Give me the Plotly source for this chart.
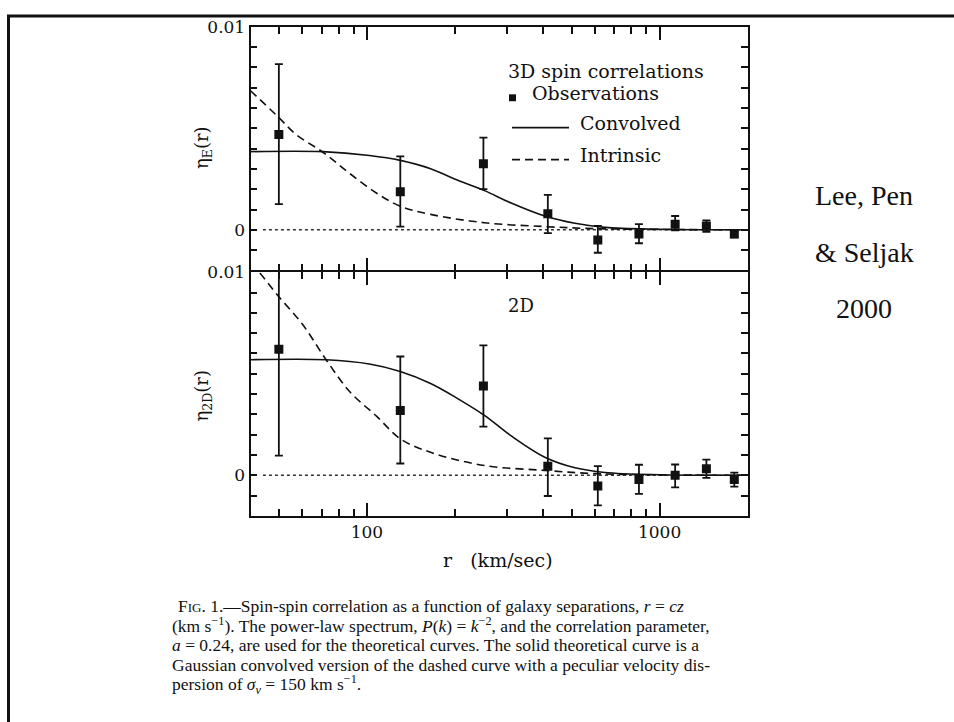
import plotly.graph_objects as go

W, H = 954, 722

# ---------------- data ----------------
r_obs = [50, 130, 250, 415, 615, 850, 1130, 1445, 1800]

# 3D spin correlations
eta3d_obs = [0.00470, 0.00188, 0.00325, 0.00079, -0.00050, -0.00021, 0.00028, 0.00019, -0.00021]
eta3d_hi = [0.00816, 0.00362, 0.00454, 0.00172, 0.00019, 0.00028, 0.00068, 0.00047, -0.00005]
eta3d_lo = [0.00127, 0.00016, 0.00200, -0.00016, -0.00113, -0.00066, -0.00002, -0.00010, -0.00037]

r_3d_conv = [40, 70.7, 102, 130, 165, 203.5, 252, 311, 405, 514, 650, 1000, 2000]
eta3d_conv = [0.00385, 0.00385, 0.00366, 0.00342, 0.00301, 0.00245, 0.00193, 0.00132, 0.00068, 0.00032, 0.00012, 0.00003, 0.0]

r_3d_intr = [40, 49.5, 57.2, 70.7, 87.4, 108, 130, 165, 252, 405, 600, 1000, 2000]
eta3d_intr = [0.00685, 0.00559, 0.00470, 0.00382, 0.00277, 0.00180, 0.00116, 0.00076, 0.00035, 0.00016, 0.00006, 0.00002, 0.0]

# 2D spin correlations
eta2d_obs = [0.00621, 0.00319, 0.00440, 0.00044, -0.00053, -0.00021, 0.00000, 0.00032, -0.00021]
eta2d_hi = [0.01040, 0.00585, 0.00640, 0.00182, 0.00045, 0.00052, 0.00053, 0.00077, 0.00013]
eta2d_lo = [0.00097, 0.00058, 0.00240, -0.00102, -0.00148, -0.00092, -0.00060, -0.00013, -0.00056]

r_2d_conv = [40, 72.6, 102, 130, 165, 203.5, 252, 311, 405, 514, 650, 1000, 2000]
eta2d_conv = [0.00569, 0.00569, 0.00548, 0.00511, 0.00452, 0.00379, 0.00295, 0.00194, 0.00089, 0.00037, 0.00014, 0.00003, 0.0]

r_2d_intr = [40, 42.8, 49.5, 60.3, 72.6, 87.4, 108, 130.5, 165, 252, 405, 600, 1000, 2000]
eta2d_intr = [0.01040, 0.01000, 0.00887, 0.00742, 0.00568, 0.00411, 0.00290, 0.00178, 0.00113, 0.00048, 0.00024, 0.00008, 0.00002, 0.0]

# ticks
x_major_vals = [100, 1000]
x_major_text = ["100", "1000"]
x_minor_vals = [50, 60, 70, 80, 90, 200, 300, 400, 500, 600, 700, 800, 900, 2000]
y_label_vals = [0.0, 0.01]
y_label_text = ["0", "0.01"]
y_minor_vals = [-0.002, -0.001, 0.001, 0.002, 0.003, 0.004, 0.005, 0.006, 0.007, 0.008, 0.009]

caption_lines = [
    "F<span style='font-size:13px'>IG</span>. 1.\u2014Spin-spin correlation as a function of galaxy separations, <i>r</i> = <i>cz</i>",
    "(km s<sup>\u22121</sup>). The power-law spectrum, <i>P</i>(<i>k</i>) = <i>k</i><sup>\u22122</sup>, and the correlation parameter,",
    "<i>a</i> = 0.24, are used for the theoretical curves. The solid theoretical curve is a",
    "Gaussian convolved version of the dashed curve with a peculiar velocity dis-",
    "persion of <i>\u03c3<sub>v</sub></i> = 150 km s<sup>\u22121</sup>.",
]
credit_lines = ["Lee, Pen", "&amp; Seljak", "2000"]

# ---------------- layout helpers ----------------
def px(x):
    return x / W

def py(y):
    return 1 - y / H

FRAME_L, FRAME_R = 250.5, 747.7
TOP_T, MID, BOT_B = 17, 265, 513
LW = 1.8

FONT = "DejaVu Serif"
BLACK = "#111111"


def err(vals, hi, lo):
    return dict(type="data", symmetric=False,
                array=[h - v for v, h in zip(vals, hi)],
                arrayminus=[v - l for v, l in zip(vals, lo)],
                color=BLACK, thickness=1.8, width=4)


fig = go.Figure()
DASH = "8px,5px"

# top panel: 3D (axes x2/y2)
fig.add_trace(go.Scatter(x=r_3d_intr, y=eta3d_intr, mode="lines", xaxis="x2", yaxis="y2",
                         line=dict(color=BLACK, width=1.6, dash=DASH, shape="spline"),
                         showlegend=False, hoverinfo="skip"))
fig.add_trace(go.Scatter(x=r_3d_conv, y=eta3d_conv, mode="lines", xaxis="x2", yaxis="y2",
                         line=dict(color=BLACK, width=1.6, shape="spline"),
                         showlegend=False, hoverinfo="skip"))
fig.add_trace(go.Scatter(x=r_obs, y=eta3d_obs, mode="markers", xaxis="x2", yaxis="y2",
                         marker=dict(symbol="square", size=9, color=BLACK),
                         error_y=err(eta3d_obs, eta3d_hi, eta3d_lo), showlegend=False))

# bottom panel: 2D (axes x/y)
fig.add_trace(go.Scatter(x=r_2d_intr, y=eta2d_intr, mode="lines", xaxis="x", yaxis="y",
                         line=dict(color=BLACK, width=1.6, dash=DASH, shape="spline"),
                         showlegend=False, hoverinfo="skip"))
fig.add_trace(go.Scatter(x=r_2d_conv, y=eta2d_conv, mode="lines", xaxis="x", yaxis="y",
                         line=dict(color=BLACK, width=1.6, shape="spline"),
                         showlegend=False, hoverinfo="skip"))
fig.add_trace(go.Scatter(x=r_obs, y=eta2d_obs, mode="markers", xaxis="x", yaxis="y",
                         marker=dict(symbol="square", size=9, color=BLACK),
                         error_y=err(eta2d_obs, eta2d_hi, eta2d_lo), showlegend=False))

xcommon = dict(type="log", range=[1.60206, 3.30103], domain=[px(FRAME_L), px(FRAME_R)],
               showline=True, linecolor=BLACK, linewidth=LW, mirror="allticks",
               ticks="inside", ticklen=13, tickwidth=1.6, tickcolor=BLACK,
               tickmode="array", tickvals=x_major_vals, ticktext=x_major_text,
               minor=dict(tickmode="array", tickvals=x_minor_vals, ticks="inside",
                          ticklen=7, tickwidth=1.6, tickcolor=BLACK, showgrid=False),
               showgrid=False, zeroline=False,
               tickfont=dict(family=FONT, size=17, color=BLACK))
ycommon = dict(range=[-0.002, 0.01], showline=True, linecolor=BLACK, linewidth=LW,
               mirror="allticks", ticks="inside", ticklen=7, tickwidth=1.6, tickcolor=BLACK,
               tickmode="array", tickvals=y_label_vals, ticktext=y_label_text,
               minor=dict(tickmode="array", tickvals=y_minor_vals, ticks="inside",
                          ticklen=7, tickwidth=1.6, tickcolor=BLACK, showgrid=False),
               showgrid=False, zeroline=False,
               tickfont=dict(family=FONT, size=17, color=BLACK))

# the two panels share the middle frame line: overlap domains by the line width
top_bottom = MID - LW / 2
bot_top = MID + LW / 2

fig.update_layout(
    width=W, height=H, margin=dict(l=0, r=0, t=0, b=0),
    paper_bgcolor="white", plot_bgcolor="white", showlegend=False,
    xaxis=dict(xcommon, anchor="y"),
    xaxis2=dict(xcommon, anchor="y2", matches="x", showticklabels=False),
    yaxis=dict(ycommon, anchor="x", domain=[py(BOT_B), py(bot_top)]),
    yaxis2=dict(ycommon, anchor="x2", domain=[py(top_bottom), py(TOP_T)]),
)

shapes = []
# dotted zero lines
for xr, yr in (("x domain", "y"), ("x2 domain", "y2")):
    shapes.append(dict(type="line", xref=xr, yref=yr, x0=0.025, x1=1, y0=0, y1=0,
                       line=dict(color="#333333", width=1.4, dash="dot"), layer="below"))
# page border (top and left)
shapes.append(dict(type="line", xref="paper", yref="paper", x0=px(8.5), x1=px(8.5),
                   y0=0, y1=py(6), line=dict(color=BLACK, width=3)))
shapes.append(dict(type="line", xref="paper", yref="paper", x0=px(7), x1=1,
                   y0=py(6), y1=py(6), line=dict(color=BLACK, width=3)))
# legend samples
shapes.append(dict(type="rect", xref="paper", yref="paper",
                   x0=px(509), x1=px(516), y0=py(92.5), y1=py(85.5),
                   fillcolor=BLACK, line=dict(width=0)))
shapes.append(dict(type="line", xref="paper", yref="paper", x0=px(512), x1=px(569),
                   y0=py(119.3), y1=py(119.3), line=dict(color=BLACK, width=1.6)))
shapes.append(dict(type="line", xref="paper", yref="paper", x0=px(512), x1=px(569),
                   y0=py(151.7), y1=py(151.7), line=dict(color=BLACK, width=1.6, dash=DASH)))

ann = []
def text(x, y, s, size, xanchor="left", yanchor="middle", family=FONT, angle=0):
    ann.append(dict(x=px(x), y=py(y), xref="paper", yref="paper", text=s, showarrow=False,
                    xanchor=xanchor, yanchor=yanchor, textangle=angle,
                    font=dict(family=family, size=size, color=BLACK)))

text(506, 61.7, "3D spin correlations", 19)
text(530, 84.5, "Observations", 19)
text(578, 115, "Convolved", 19)
text(578, 146.7, "Intrinsic", 19)
text(520.5, 300, "2D", 18, xanchor="center")
text(203, 140, "\u03b7<sub>E</sub>(r)", 18, xanchor="center", angle=-90)
text(203, 391, "\u03b7<sub>2D</sub>(r)", 18, xanchor="center", angle=-90)
text(498, 558, "r&#160;&#160;&#160;(km/sec)", 19, xanchor="center")

for i, line in enumerate(credit_lines):
    text(864, 188 + i * 57.5, line, 28, xanchor="center", family="Liberation Serif")

# caption: bottoms of the text boxes (baseline + descent)
cap_bottom = [616.5, 636.5, 656.5, 676, 698.5]
for i, line in enumerate(caption_lines):
    text(176 if i == 0 else 170, cap_bottom[i], line, 17.5, yanchor="bottom",
         family="Liberation Serif")

fig.update_layout(shapes=shapes, annotations=ann)
fig.write_html("out.html", config={"displayModeBar": False},
               post_script="document.body.style.margin='0px';")
